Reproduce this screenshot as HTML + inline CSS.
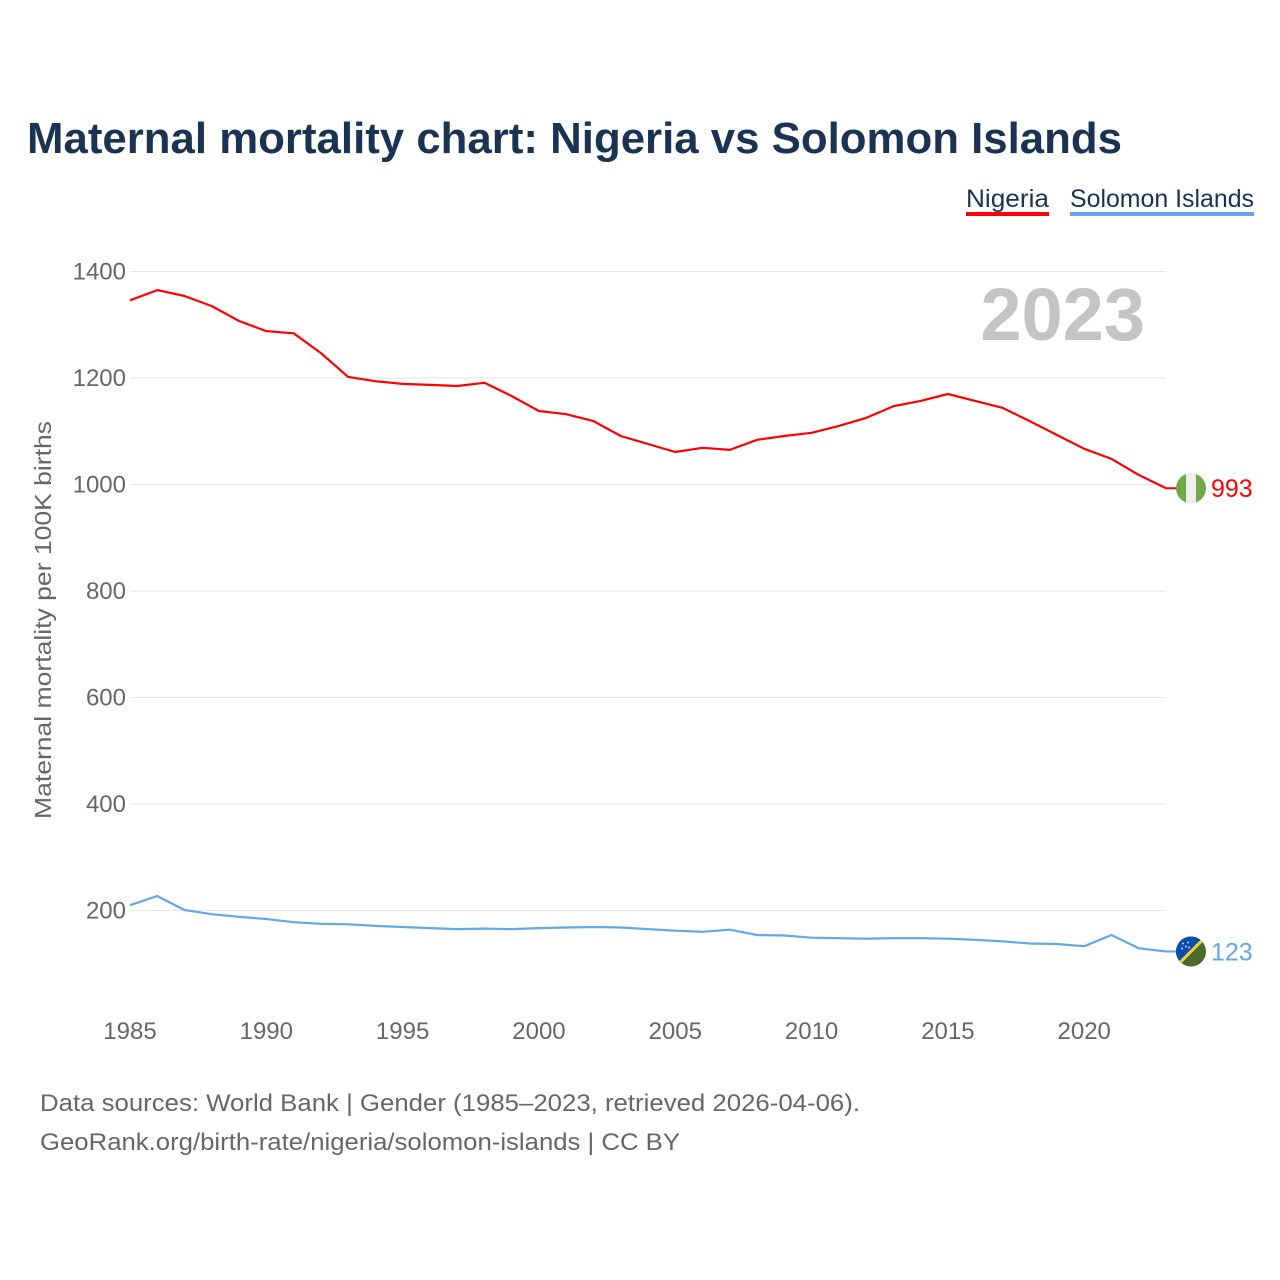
<!DOCTYPE html>
<html><head><meta charset="utf-8">
<style>
html,body{margin:0;padding:0;background:#fff;}
svg{display:block;font-family:"Liberation Sans",sans-serif;}
</style></head>
<body>
<svg id="chart" width="1280" height="1280" viewBox="0 0 1280 1280">
  <rect width="1280" height="1280" fill="#fff"/>
  <text x="27" y="153" font-size="44" font-weight="bold" fill="#1a3353" textLength="1095" lengthAdjust="spacingAndGlyphs">Maternal mortality chart: Nigeria vs Solomon Islands</text>
  <g>
    <g>
      <text x="966" y="207" font-size="25" fill="#1a3353" textLength="83" lengthAdjust="spacingAndGlyphs">Nigeria</text>
      <rect x="966" y="212" width="83" height="4" fill="#ff0000"/>
    </g>
    <g>
      <text x="1070" y="207" font-size="25" fill="#1a3353" textLength="184" lengthAdjust="spacingAndGlyphs">Solomon Islands</text>
      <rect x="1070" y="212" width="184" height="4" fill="#62a8e8"/>
    </g>
  </g>
  <text x="1145" y="340" font-size="74" font-weight="bold" fill="#c4c4c4" text-anchor="end">2023</text>
  <g id="grid"></g>
  <g id="yticks"></g>
  <g id="xticks"></g>
  <text transform="translate(51,620) rotate(-90)" font-size="23" fill="#666" text-anchor="middle" textLength="398" lengthAdjust="spacingAndGlyphs">Maternal mortality per 100K births</text>
  <g id="series"></g>
  <text x="40" y="1111" font-size="24" fill="#666" textLength="820" lengthAdjust="spacingAndGlyphs">Data sources: World Bank | Gender (1985–2023, retrieved 2026-04-06).</text>
  <text x="40" y="1150" font-size="24" fill="#666" textLength="640" lengthAdjust="spacingAndGlyphs">GeoRank.org/birth-rate/nigeria/solomon-islands | CC BY</text>
</svg>
<script>
const years = [1985,1986,1987,1988,1989,1990,1991,1992,1993,1994,1995,1996,1997,1998,1999,2000,2001,2002,2003,2004,2005,2006,2007,2008,2009,2010,2011,2012,2013,2014,2015,2016,2017,2018,2019,2020,2021,2022,2023];
const nigeria = [1346,1365,1354,1335,1307,1288,1284,1247,1202,1194,1189,1187,1185,1191,1166,1138,1132,1119,1091,1076,1061,1069,1065,1084,1091,1097,1110,1125,1147,1157,1170,1157,1144,1119,1093,1067,1048,1018,993];
const solomon = [210,227,201,193,188,184,178,175,174,171,169,167,165,166,165,167,168,169,168,165,162,160,164,154,153,149,148,147,148,148,147,145,142,138,137,133,154,129,123];
const yTickValues = [200,400,600,800,1000,1200,1400];
const xTickValues = [1985,1990,1995,2000,2005,2010,2015,2020];

const NS = "http://www.w3.org/2000/svg";
const X0 = 130, X1 = 1166, Y0 = 1017, PX_PER_UNIT = 0.5325;
const xScale = y => X0 + (y - 1985) * (X1 - X0) / (2023 - 1985);
const yScale = v => Y0 - v * PX_PER_UNIT;
function mk(tag, attrs, parent){ const e=document.createElementNS(NS,tag); for(const k in attrs) e.setAttribute(k,attrs[k]); parent.appendChild(e); return e; }

const grid = document.getElementById('grid');
const yt = document.getElementById('yticks');
yTickValues.forEach(v=>{
  const l = mk('line',{x1:X0,x2:X1,y1:yScale(v),y2:yScale(v),stroke:'#e6e6e6','stroke-width':1},grid);
  
  
  const t = mk('text',{x:126,y:yScale(v)+8,'font-size':24,fill:'#666','text-anchor':'end'},yt);
  t.textContent = v;
  
  
});
const xt = document.getElementById('xticks');
xTickValues.forEach(v=>{
  const t = mk('text',{x:xScale(v),y:1039,'font-size':24,fill:'#666','text-anchor':'middle'},xt);
  t.textContent = v;
  
  
});

const sg = document.getElementById('series');
function drawLine(vals,color,name){
  const d = vals.map((v,i)=>(i?'L':'M')+xScale(years[i]).toFixed(1)+','+yScale(v).toFixed(1)).join('');
  const p = mk('path',{d:d,fill:'none',stroke:color,'stroke-width':2.2,'stroke-linejoin':'round'},sg);
  
  
  const last = vals[vals.length-1];
  const ly = yScale(last);
  const c = mk('line',{x1:xScale(2023),x2:1177,y1:ly,y2:ly,stroke:color,'stroke-width':2},sg);
  
  
  const t = mk('text',{x:1211,y:ly+9,'font-size':25,fill:color},sg);
  t.textContent = last;
  
  
  return ly;
}
const ny = drawLine(nigeria,'#ff0000','nigeria');
const sy = drawLine(solomon,'#62a8e8','solomon-islands');

const cx=1191, r=15;
// Nigeria flag
const fn = mk('g',{},sg);


const cpN = mk('clipPath',{id:'cpN'},fn);
mk('circle',{cx:cx,cy:ny,r:r},cpN);
const gN = mk('g',{'clip-path':'url(#cpN)'},fn);
mk('rect',{x:cx-r,y:ny-r,width:2*r,height:2*r,fill:'#6ea84a'},gN);
mk('rect',{x:cx-r/3,y:ny-r,width:2*r/3,height:2*r,fill:'#eeeeee'},gN);

// Solomon flag
const fs = mk('g',{},sg);


const cp = mk('clipPath',{id:'cpS'},fs);
mk('circle',{cx:cx,cy:sy,r:r},cp);
const gS = mk('g',{'clip-path':'url(#cpS)'},fs);
mk('rect',{x:cx-r,y:sy-r,width:2*r,height:2*r,fill:'#4b6b2c'},gS);
mk('polygon',{points:`${cx-r},${sy-r} ${cx+r},${sy-r} ${cx-r},${sy+r}`,fill:'#0a4fad'},gS);
mk('line',{x1:cx+r,y1:sy-r,x2:cx-r,y2:sy+r,stroke:'#f4d03f','stroke-width':3},gS);
[[-8,-8],[-3,-9],[-9,-3],[-5,-5],[-2,-4]].forEach(s=>mk('circle',{cx:cx+s[0],cy:sy+s[1],r:0.9,fill:'#fff'},gS));
</script>
</body></html>
